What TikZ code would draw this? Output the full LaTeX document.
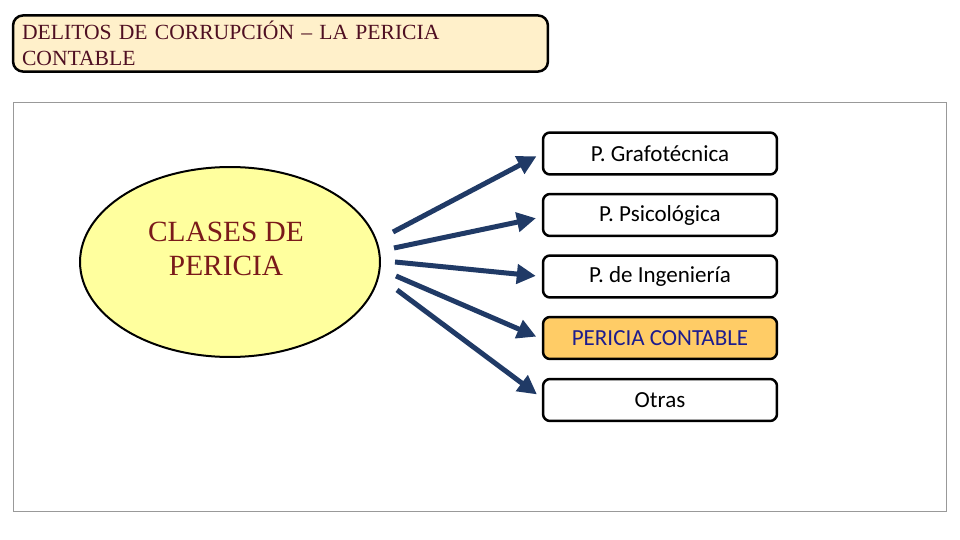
\documentclass[tikz,border=0pt]{standalone}
\usepackage{fontspec}
\setmainfont{Liberation Serif}
\newfontfamily\calfont{Carlito}
\usetikzlibrary{shapes.geometric,arrows.meta}
\definecolor{titlefill}{HTML}{FFF0CA}
\definecolor{titletext}{HTML}{4F0F22}
\definecolor{elipfill}{HTML}{FFFF9E}
\definecolor{elitext}{HTML}{7A1A1A}
\definecolor{contfill}{HTML}{FFCC66}
\definecolor{conttext}{HTML}{1C1C8E}
\definecolor{flecha}{HTML}{203A66}
\begin{document}
\begin{tikzpicture}[x=0.02cm,y=-0.02cm,
	caja/.style={draw,line width=0.05cm,rounded corners=0.14cm,fill=white,
		minimum width=4.68cm,minimum height=0.84cm,inner sep=0pt,
		font=\calfont\fontsize{13.1}{14}\selectfont},
	flechita/.style={flecha,line width=0.1cm,shorten >=0.12cm,
		-{Triangle[length=0.38cm,width=0.38cm]}}]
	\useasboundingbox (0,0) rectangle (960,540);
	% titulo
	\node[draw,line width=0.05cm,rounded corners=0.2cm,fill=titlefill,
		minimum width=10.7cm,minimum height=1.06cm,inner xsep=0.18cm,
		text width=10.34cm,align=left,text=titletext,
		font=\fontsize{12.3}{14.6}\selectfont] (titulo) at (280.5,43.5)
		{DELITOS DE CORRUPCIÓN – LA PERICIA\\CONTABLE};
	% marco
	\draw[gray!80,line width=0.02cm] (13,103) rectangle (946,511);
	% elipse
	\node[ellipse,draw,line width=0.04cm,fill=elipfill,minimum width=6cm,
		minimum height=3.8cm] (elip) at (230,262) {};
	\node[align=center,text=elitext,font=\fontsize{16.7}{19.8}\selectfont]
		(clases) at (226,249) {CLASES DE\\PERICIA};
	% cajas
	\node[caja] (g1) at (660,153.5) {P. Grafotécnica};
	\node[caja] (g2) at (660,215) {P. Psicológica};
	\node[caja] (g3) at (660,276.5) {P. de Ingeniería};
	\node[caja,fill=contfill,text=conttext] (g4) at (660,338) {PERICIA CONTABLE};
	\node[caja] (g5) at (660,400) {Otras};
	% flechas
	\coordinate (s1) at (393,232);
	\coordinate (s2) at (394,248);
	\coordinate (s3) at (395,262);
	\coordinate (s4) at (396,276);
	\coordinate (s5) at (397,290);
	\draw[flechita] (s1) -- (g1.west);
	\draw[flechita] (s2) -- ([yshift=-0.04cm]g2.west);
	\draw[flechita] (s3) -- (g3.west);
	\draw[flechita] (s4) -- ([yshift=-0.02cm]g4.west);
	\draw[flechita] (s5) -- ([yshift=0.04cm]g5.west);
\end{tikzpicture}
\end{document}
